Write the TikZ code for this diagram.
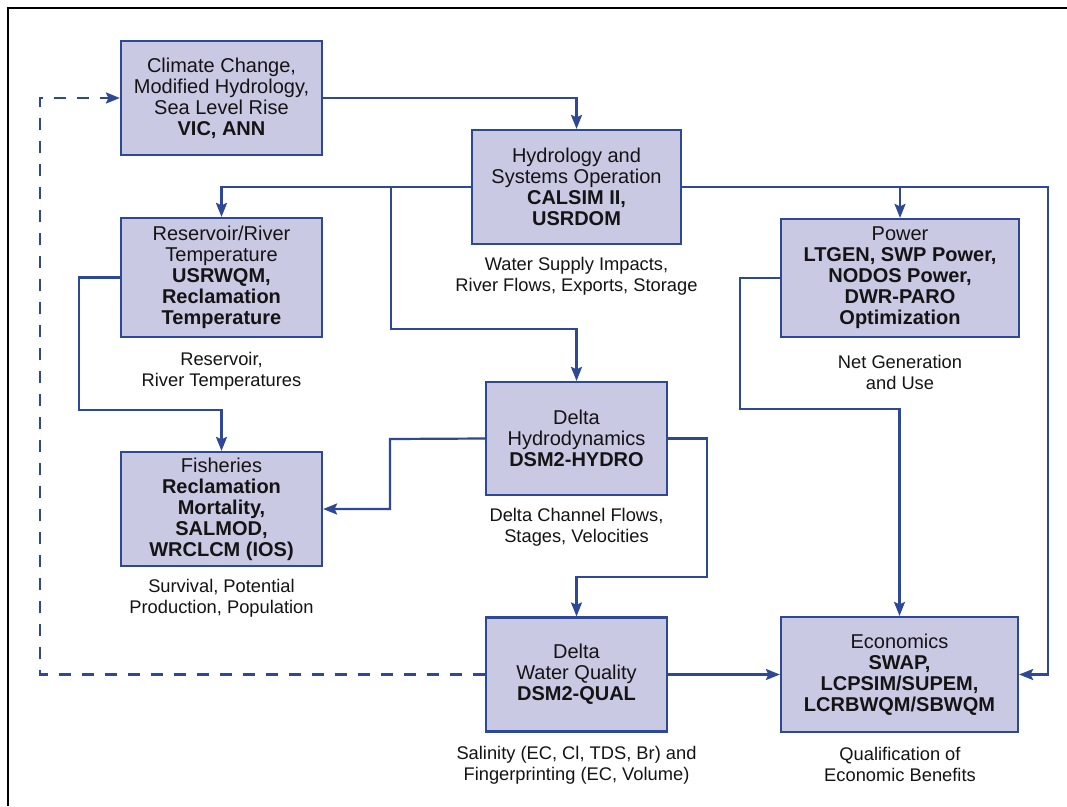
\documentclass[tikz,border=0pt]{standalone}
\usepackage{fontspec}
\setmainfont{Liberation Sans}
\usetikzlibrary{arrows.meta}
\definecolor{lineblue}{RGB}{44,72,150}
\definecolor{boxfill}{RGB}{201,201,228}
\definecolor{txt}{RGB}{20,20,20}
\begin{document}
\begin{tikzpicture}[x=1pt,y=-1pt,
  modelbox/.style={draw=lineblue,fill=boxfill,line width=2.2pt,inner sep=0pt,
    align=center,text=txt,font=\fontsize{20}{21}\selectfont},
  outlabel/.style={inner sep=0pt,align=center,text=txt,font=\fontsize{18.3}{21}\selectfont},
  link/.style={draw=lineblue,line width=2.2pt},
  arr/.style={link,-{Stealth[length=14pt,width=11pt,inset=2.5pt]}},
  fb/.style={arr,dash pattern=on 12pt off 11pt}]
\useasboundingbox (0,0) rectangle (1067,806);
\fill[white] (0,0) rectangle (1067,806);
% frame
\draw[line width=2.5pt,black] (8,806) -- (8,8) -- (1067,8);

% boxes
\node[modelbox,minimum width=201pt,minimum height=114pt] (clim) at (221.5,98)
  {Climate Change,\\Modified Hydrology,\\Sea Level Rise\\\textbf{VIC, ANN}};
\node[modelbox,minimum width=209pt,minimum height=114pt] (hyd) at (576.5,187)
  {Hydrology and\\Systems Operation\\\textbf{CALSIM II,}\\\textbf{USRDOM}};
\node[modelbox,minimum width=201pt,minimum height=119pt] (res) at (221.5,277.5)
  {Reservoir/River\\Temperature\\\textbf{USRWQM,}\\\textbf{Reclamation}\\\textbf{Temperature}};
\node[modelbox,minimum width=238pt,minimum height=118pt] (pow) at (900,278)
  {Power\\\textbf{LTGEN, SWP Power,}\\\textbf{NODOS Power,}\\\textbf{DWR-PARO}\\\textbf{Optimization}};
\node[modelbox,minimum width=201pt,minimum height=114pt] (fish) at (221.5,509)
  {Fisheries\\\textbf{Reclamation}\\\textbf{Mortality,}\\\textbf{SALMOD,}\\\textbf{WRCLCM (IOS)}};
\node[modelbox,minimum width=181pt,minimum height=113pt] (dh) at (576.5,438.5)
  {Delta\\Hydrodynamics\\\textbf{DSM2-HYDRO}};
\node[modelbox,minimum width=181pt,minimum height=114pt] (dwq) at (576.5,674.5)
  {Delta\\Water Quality\\\textbf{DSM2-QUAL}};
\node[modelbox,minimum width=237pt,minimum height=115pt] (eco) at (899.5,674.5)
  {Economics\\\textbf{SWAP,}\\\textbf{LCPSIM/SUPEM,}\\\textbf{LCRBWQM/SBWQM}};

% output labels
\node[outlabel] (lhyd) at (576.5,276) {Water Supply Impacts,\\River Flows, Exports, Storage};
\node[outlabel] (lres) at (221.5,371) {Reservoir,\\River Temperatures};
\node[outlabel] (lpow) at (900,372) {Net Generation\\and Use};
\node[outlabel] (ldh) at (576.5,527) {Delta Channel Flows,\\Stages, Velocities};
\node[outlabel] (lfish) at (221.5,598) {Survival, Potential\\Production, Population};
\node[outlabel] (ldwq) at (576.5,765) {Salinity (EC, Cl, TDS, Br) and\\Fingerprinting (EC, Volume)};
\node[outlabel] (leco) at (900,764) {Qualification of\\Economic Benefits};

% junction / bend coordinates
\coordinate (j1) at (391,187);
\coordinate (b1) at (391,329);
\coordinate (j2) at (900,187);
\coordinate (b2) at (1048,187);
\coordinate (b3) at (740,278);
\coordinate (b4) at (740,409);
\coordinate (b5) at (79,277.5);
\coordinate (b6) at (79,410);
\coordinate (b7) at (390,439);
\coordinate (b8) at (390,509);
\coordinate (b9) at (707,438.5);
\coordinate (b10) at (707,577);
\coordinate (b11) at (40,674.5);
\coordinate (b12) at (40,98);

% connectors
\draw[arr] (clim.east) -| (hyd.north);
\draw[arr] (hyd.west) -| (res.north);
\draw[arr] (j1) -- (b1) -| (dh.north);
\draw[arr] (hyd.east) -- (b2) |- (eco.east);
\draw[arr] (j2) -- (pow.north);
\draw[arr] (pow.west) -- (b3) -- (b4) -| (eco.north);
\draw[arr] (res.west) -- (b5) -- (b6) -| (fish.north);
\draw[arr] (dh.west) -- (b7) -- (b8) -- (fish.east);
\draw[arr] (dh.east) -- (b9) -- (b10) -| (dwq.north);
\draw[arr] (dwq.east) -- (eco.west);
\draw[fb] (dwq.west) -- (b11) -- (b12) -- (clim.west);
\end{tikzpicture}
\end{document}
